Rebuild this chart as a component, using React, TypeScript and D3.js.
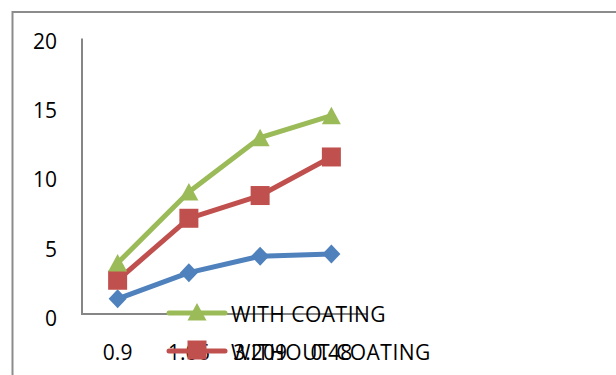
import React from "react";
import * as d3 from "d3";

const categories = ["0.9", "1.06", "3.209", "0.48"];
const seriesNames = ["", "WITH COATING", "WITHOUT COATING"];
const blueValues = [1.1, 3.0, 4.2, 4.35];
const redValues = [2.45, 6.95, 8.6, 11.4];
const greenValues = [3.7, 8.85, 12.8, 14.4];
const yTicks = [0, 5, 10, 15, 20];

const W = 616;
const H = 375;
const plot = { left: 82, right: 367, top: 38.5, bottom: 314 };
const FONT = "'Open Sans', sans-serif";

function Marker({ type, x, y, color }: { type: string; x: number; y: number; color: string }) {
  if (type === "diamond") {
    return <path d={`M${x},${y - 9.5} L${x + 9},${y} L${x},${y + 9.5} L${x - 9},${y} Z`} fill={color} />;
  }
  if (type === "square") {
    return <rect x={x - 9.5} y={y - 9.5} width={19} height={19} fill={color} />;
  }
  return <path d={`M${x},${y - 9} L${x + 9.5},${y + 8.5} L${x - 9.5},${y + 8.5} Z`} fill={color} />;
}

export default function App() {
  const x = d3.scaleBand<string>().domain(categories).range([plot.left, plot.right]);
  const y = d3.scaleLinear().domain([0, 20]).range([plot.bottom, plot.top]);
  const labelY = d3.scaleLinear().domain([0, 20]).range([318, 40.7]);
  const cx = (c: string) => (x(c) as number) + x.bandwidth() / 2;
  const line = d3
    .line<number>()
    .x((_, i) => cx(categories[i]))
    .y((d) => y(d));

  const series = [
    { values: blueValues, color: "#4F81BD", marker: "diamond" },
    { values: redValues, color: "#C0504D", marker: "square" },
    { values: greenValues, color: "#9BBB59", marker: "triangle" },
  ];

  return (
    <svg
      width={W}
      height={H}
      style={{ position: "absolute", left: 0, top: 0, background: "#fff" }}
      fontFamily={FONT}
    >
      <rect x={0} y={0} width={W} height={H} fill="#fff" />
      <path d={`M12.5,${H} V12 H${W}`} fill="none" stroke="#8c8c8c" strokeWidth={2} />
      <path
        d={`M${plot.left},${plot.top} V${plot.bottom} H${plot.right}`}
        fill="none"
        stroke="#868686"
        strokeWidth={2}
      />
      {yTicks.map((t) => (
        <text key={t} x={57} y={labelY(t)} fontSize={21} textAnchor="end" fill="#000" dominantBaseline="central">
          {t}
        </text>
      ))}
      {categories.map((c) => (
        <text key={c} x={cx(c)} y={352} fontSize={21} textAnchor="middle" fill="#000" dominantBaseline="central">
          {c}
        </text>
      ))}
      {series.map((s, si) => (
        <g key={si}>
          <path d={line(s.values) || ""} fill="none" stroke={s.color} strokeWidth={5} strokeLinejoin="round" />
          {s.values.map((v, i) => (
            <Marker key={i} type={s.marker} x={cx(categories[i])} y={y(v)} color={s.color} />
          ))}
        </g>
      ))}
      {[
        { name: seriesNames[1], color: "#9BBB59", marker: "triangle", y: 313 },
        { name: seriesNames[2], color: "#C0504D", marker: "square", y: 351 },
      ].map((l, i) => (
        <g key={i}>
          <line x1={169} x2={225} y1={l.y} y2={l.y} stroke={l.color} strokeWidth={5} strokeLinecap="round" />
          <Marker type={l.marker} x={197} y={l.y - 1} color={l.color} />
          <text
            x={231}
            y={l.y + 1}
            fontSize={21}
            letterSpacing={0.5}
            fill="#000"
            dominantBaseline="central"
          >
            {l.name}
          </text>
        </g>
      ))}
    </svg>
  );
}
